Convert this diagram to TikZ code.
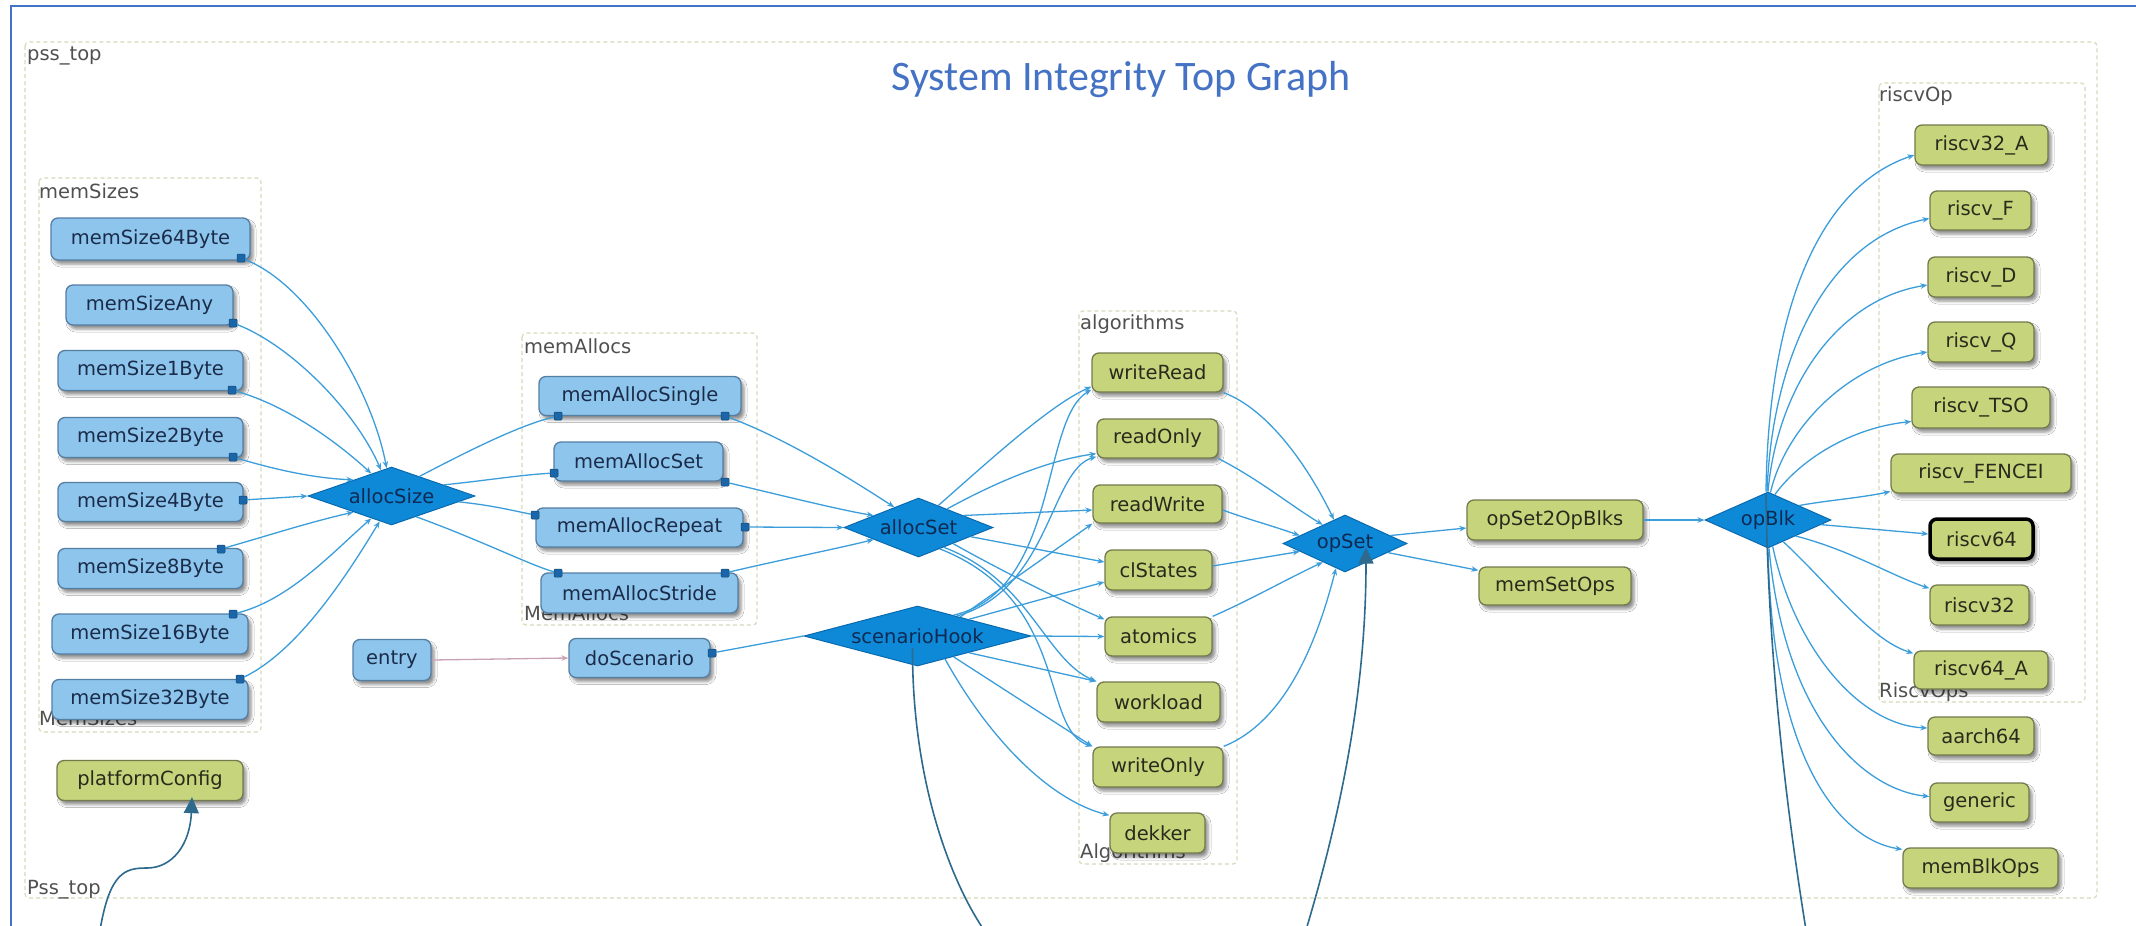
\documentclass[tikz,border=0pt]{standalone}
\usepackage{fontspec}
\setmainfont{DejaVu Sans}
\newfontfamily\titlefont{Carlito}
\usetikzlibrary{shapes.geometric,arrows.meta,shadows.blur,calc}
\definecolor{framecol}{HTML}{4472C4}
\definecolor{grpcol}{HTML}{D8DABA}
\definecolor{grptext}{HTML}{505050}
\definecolor{bfill}{HTML}{8DC5EC}
\definecolor{bdraw}{HTML}{557EA3}
\definecolor{btext}{HTML}{1B2C4A}
\definecolor{gfill}{HTML}{C6D47C}
\definecolor{gdraw}{HTML}{737A4C}
\definecolor{gtext}{HTML}{2A2A1C}
\definecolor{dfill}{HTML}{0D89D8}
\definecolor{ddraw}{HTML}{0B6AAE}
\definecolor{dtext}{HTML}{0E2A52}
\definecolor{edgecol}{HTML}{3B9EDB}
\definecolor{portcol}{HTML}{1A66A8}
\definecolor{pinkcol}{HTML}{C8A2B4}
\definecolor{callcol}{HTML}{2D6A8E}
\newcommand\nodefont{\fontsize{19.5}{22}\selectfont}
\begin{document}
\begin{tikzpicture}[x=1pt,y=-1pt,
 shadowed/.style={blur shadow={shadow xshift=3pt,shadow yshift=-4pt,shadow blur radius=3pt,shadow opacity=45}},
 bnode/.style={shadowed,rectangle,rounded corners=7pt,draw=bdraw,line width=1.3pt,fill=bfill,text=btext,font=\nodefont,inner sep=0pt},
 gnode/.style={shadowed,rectangle,rounded corners=7pt,draw=gdraw,line width=1.3pt,fill=gfill,text=gtext,font=\nodefont,inner sep=0pt},
 dnode/.style={diamond,draw=ddraw,line width=1pt,fill=dfill,text=dtext,font=\nodefont,inner sep=0pt},
 portsq/.style={rectangle,fill=portcol,draw=portcol!70!black,line width=0.5pt,minimum size=8pt,inner sep=0pt,rounded corners=1pt},
 grp/.style={draw=grpcol,line width=1.2pt,dash pattern=on 4pt off 3pt,rounded corners=4pt},
 glabel/.style={text=grptext,font=\nodefont,anchor=base west,inner sep=0pt},
 conn/.style={draw=edgecol,line width=1.3pt,-{Stealth[length=7pt,width=5.5pt]}},
 plainconn/.style={draw=edgecol,line width=1.3pt},
 pinkconn/.style={draw=pinkcol,line width=1.3pt,-{Stealth[length=7pt,width=5.5pt]}},
 callarrow/.style={draw=callcol,line width=1.6pt,-{Triangle[length=16pt,width=15pt]}},
 callline/.style={draw=callcol,line width=1.6pt},
]
\useasboundingbox (0,0) rectangle (2136,926);
\fill[white] (0,0) rectangle (2136,926);
% frame
\draw[framecol,line width=2.5pt] (11,930) -- (11,6) -- (2140,6);
% groups
\draw[grp] (25,42) rectangle (2097,898);
\node[glabel] (lpss) at (27,60) {pss\_top};
\node[glabel] (lPss) at (27,894) {Pss\_top};
\node[font=\titlefont\fontsize{42}{48}\selectfont,text=framecol,anchor=base,inner sep=0pt] (title) at (1121,90) {System Integrity Top Graph};

\draw[grp] (39,178) rectangle (261,732);
\node[glabel] (lms) at (39,198) {memSizes};
\node[glabel] (lMs) at (39,725) {MemSizes};

\draw[grp] (522,333) rectangle (757,625);
\node[glabel] (lma) at (524,353) {memAllocs};
\node[glabel] (lMa) at (524,620) {MemAllocs};

\draw[grp] (1079,311) rectangle (1237,864);
\node[glabel] (lal) at (1080,329) {algorithms};
\node[glabel] (lAl) at (1080,858) {Algorithms};

\draw[grp] (1879,83) rectangle (2085,702);
\node[glabel] (lro) at (1879,101) {riscvOp};
\node[glabel] (lRo) at (1879,697) {RiscvOps};

% memSizes
\node[bnode,minimum width=199pt,minimum height=42pt] (ms64) at (150.5,239) {memSize64Byte};
\node[bnode,minimum width=167pt,minimum height=40pt] (msAny) at (149.5,305) {memSizeAny};
\node[bnode,minimum width=185pt,minimum height=40pt] (ms1) at (150.5,370.5) {memSize1Byte};
\node[bnode,minimum width=185pt,minimum height=40pt] (ms2) at (150.5,437.5) {memSize2Byte};
\node[bnode,minimum width=185pt,minimum height=39pt] (ms4) at (150.5,502) {memSize4Byte};
\node[bnode,minimum width=185pt,minimum height=40pt] (ms8) at (150.5,568.5) {memSize8Byte};
\node[bnode,minimum width=196pt,minimum height=40pt] (ms16) at (150,634) {memSize16Byte};
\node[bnode,minimum width=196pt,minimum height=40pt] (ms32) at (150,699.5) {memSize32Byte};
\node[gnode,minimum width=186pt,minimum height=40pt] (pc) at (150,780.5) {platformConfig};

\node[bnode,minimum width=78pt,minimum height=41pt] (entry) at (392,660) {entry};
\node[bnode,minimum width=141pt,minimum height=39pt] (dosc) at (639.5,658) {doScenario};

% memAllocs
\node[bnode,minimum width=202pt,minimum height=39pt] (maSingle) at (640,396) {memAllocSingle};
\node[bnode,minimum width=169pt,minimum height=39pt] (maSet) at (638.5,461.5) {memAllocSet};
\node[bnode,minimum width=207pt,minimum height=39pt] (maRep) at (639.5,527.5) {memAllocRepeat};
\node[bnode,minimum width=197pt,minimum height=40pt] (maStr) at (639.5,593) {memAllocStride};

% diamonds
\node[dnode,aspect=2.88,minimum width=167pt,minimum height=58pt] (allocSize) at (391.5,496) {allocSize};
\node[dnode,aspect=2.53,minimum width=149pt,minimum height=59pt] (allocSet) at (918.5,527.5) {allocSet};
\node[dnode,aspect=3.78,minimum width=227pt,minimum height=60pt] (scHook) at (917.5,636) {scenarioHook};
\node[dnode,aspect=2.18,minimum width=124pt,minimum height=57pt] (opSet) at (1345,543.5) {opSet};
\node[dnode,aspect=2.25,minimum width=126pt,minimum height=56pt] (opBlk) at (1768,520) {opBlk};

% algorithms
\node[gnode,minimum width=131pt,minimum height=39pt] (wr) at (1157.5,372.5) {writeRead};
\node[gnode,minimum width=121pt,minimum height=39pt] (ro) at (1157.5,438.5) {readOnly};
\node[gnode,minimum width=129pt,minimum height=38pt] (rw) at (1157.5,504) {readWrite};
\node[gnode,minimum width=107pt,minimum height=40pt] (cl) at (1158.5,570) {clStates};
\node[gnode,minimum width=107pt,minimum height=39pt] (at) at (1158.5,636.5) {atomics};
\node[gnode,minimum width=123pt,minimum height=40pt] (wl) at (1158.5,702) {workload};
\node[gnode,minimum width=130pt,minimum height=40pt] (wo) at (1158,767) {writeOnly};
\node[gnode,minimum width=95pt,minimum height=40pt] (dk) at (1157.5,833) {dekker};

\node[gnode,minimum width=176pt,minimum height=40pt] (os2ob) at (1555,520) {opSet2OpBlks};
\node[gnode,minimum width=152pt,minimum height=38pt] (mso) at (1555,586) {memSetOps};

% riscv column
\node[gnode,minimum width=133pt,minimum height=40pt] (r32A) at (1981.5,145) {riscv32\_A};
\node[gnode,minimum width=101pt,minimum height=39pt] (rF) at (1980.5,210.5) {riscv\_F};
\node[gnode,minimum width=106pt,minimum height=40pt] (rD) at (1981,277) {riscv\_D};
\node[gnode,minimum width=106pt,minimum height=40pt] (rQ) at (1981,342) {riscv\_Q};
\node[gnode,minimum width=138pt,minimum height=41pt] (rTSO) at (1981,407.5) {riscv\_TSO};
\node[gnode,minimum width=180pt,minimum height=39pt] (rFEN) at (1981,473.5) {riscv\_FENCEI};
\node[gnode,draw=black,line width=3.5pt,minimum width=103pt,minimum height=40pt] (r64) at (1981.5,539) {riscv64};
\node[gnode,minimum width=99pt,minimum height=40pt] (r32) at (1979.5,605) {riscv32};
\node[gnode,minimum width=134pt,minimum height=38pt] (r64A) at (1981,670) {riscv64\_A};
\node[gnode,minimum width=106pt,minimum height=38pt] (aarch) at (1981,736) {aarch64};
\node[gnode,minimum width=99pt,minimum height=39pt] (gen) at (1979.5,802.5) {generic};
\node[gnode,minimum width=155pt,minimum height=40pt] (mbo) at (1980.5,868) {memBlkOps};

% ports
\node[portsq] (p64) at (241,258) {};
\node[portsq] (pAny) at (233,323) {};
\node[portsq] (p1) at (232,390) {};
\node[portsq] (p2) at (233,457) {};
\node[portsq] (p4) at (243,500) {};
\node[portsq] (p8) at (221,549) {};
\node[portsq] (p16) at (233,614) {};
\node[portsq] (p32) at (240,679) {};
\node[portsq] (pSL) at (558,416) {};
\node[portsq] (pSR) at (725,416) {};
\node[portsq] (pEL) at (554,473) {};
\node[portsq] (pER) at (725,482) {};
\node[portsq] (pRL) at (535,515) {};
\node[portsq] (pRR) at (745,527) {};
\node[portsq] (pTL) at (558,573) {};
\node[portsq] (pTR) at (725,573) {};
\node[portsq] (pD) at (712,653) {};

% memSizes -> allocSize
\draw[conn] (p64) .. controls (310,285) and (372,390) .. (allocSize.100);
\draw[conn] (pAny) .. controls (290,345) and (355,410) .. (allocSize.112);
\draw[conn] (p1) .. controls (285,405) and (335,440) .. (allocSize.132);
\draw[conn] (p2) .. controls (270,468) and (310,478) .. (allocSize.157);
\draw[conn] (p4) -- (allocSize.west);
\draw[conn] (p8) .. controls (270,535) and (310,522) .. (allocSize.203);
\draw[conn] (p16) .. controls (290,600) and (335,550) .. (allocSize.228);
\draw[conn] (p32) .. controls (300,650) and (350,570) .. (allocSize.245);

% allocSize -> memAllocs
\draw[plainconn] (allocSize.35) .. controls (470,450) and (520,425) .. (pSL);
\draw[plainconn] (allocSize.12) .. controls (490,480) and (520,475) .. (pEL);
\draw[plainconn] (allocSize.-5) .. controls (490,505) and (510,510) .. (pRL);
\draw[plainconn] (allocSize.-40) .. controls (480,540) and (530,565) .. (pTL);

% memAllocs -> allocSet
\draw[conn] (pSR) .. controls (790,440) and (860,485) .. (allocSet.140);
\draw[conn] (pER) .. controls (780,495) and (840,510) .. (allocSet.165);
\draw[conn] (pRR) -- (allocSet.west);
\draw[conn] (pTR) .. controls (780,560) and (840,548) .. (allocSet.195);

% entry -> doScenario -> scenarioHook
\draw[pinkconn] (entry.east) -- (dosc.west);
\draw[plainconn] (pD) -- (scHook.west);

% allocSet -> algorithms
\draw[conn] (allocSet.48) .. controls (990,460) and (1050,405) .. ([yshift=6pt]wr.south west);
\draw[conn] (allocSet.33) .. controls (1000,480) and (1050,460) .. ([yshift=5pt]ro.south west);
\draw[conn] (allocSet.15) -- ([yshift=-6pt]rw.west);
\draw[conn] (allocSet.-10) -- ([yshift=8pt]cl.west);
\draw[conn] (allocSet.-25) .. controls (1000,570) and (1060,600) .. ([yshift=-3pt]at.north west);
\draw[conn] (allocSet.-38) .. controls (1030,580) and (1045,660) .. (wl.north west);
\draw[conn] (allocSet.-45) .. controls (1070,600) and (1040,730) .. (wo.north west);

% scenarioHook -> algorithms
\draw[conn] (scHook.30) .. controls (1060,590) and (1040,420) .. ([yshift=3pt]wr.south west);
\draw[conn] (scHook.27) .. controls (1050,590) and (1050,470) .. ([yshift=2pt]ro.south west);
\draw[conn] (scHook.24) -- (rw.south west);
\draw[conn] (scHook.18) -- ([yshift=-12pt]cl.west);
\draw[conn] (scHook.east) -- (at.west);
\draw[conn] (scHook.-18) -- (wl.north west);
\draw[conn] (scHook.-30) -- (wo.north west);
\draw[conn] (scHook.-40) .. controls (990,740) and (1050,800) .. ([yshift=-3pt]dk.north west);

% algorithms -> opSet
\draw[conn] (wr.south east) .. controls (1270,410) and (1310,470) .. (opSet.115);
\draw[conn] (ro.south east) .. controls (1260,480) and (1290,505) .. (opSet.140);
\draw[conn] ([yshift=-6pt]rw.east) .. controls (1250,520) and (1270,525) .. (opSet.170);
\draw[conn] ([yshift=4pt]cl.east) -- (opSet.190);
\draw[conn] (at.north east) .. controls (1250,600) and (1285,580) .. (opSet.220);
\draw[conn] (wo.north east) .. controls (1290,720) and (1320,630) .. (opSet.250);

% opSet -> ...
\draw[conn] (opSet.10) -- ([yshift=-8pt]os2ob.west);
\draw[conn] (opSet.-12) -- ([yshift=-4pt]mso.north west);
\draw[conn] (os2ob.east) -- (opBlk.west);

% opBlk -> riscv
\draw[conn] ([xshift=-2pt]opBlk.north) .. controls (1768,330) and (1810,190) .. ([yshift=-10pt]r32A.west);
\draw[conn] ([xshift=-1pt]opBlk.north) .. controls (1772,360) and (1825,240) .. ([yshift=-8pt]rF.west);
\draw[conn] (opBlk.north) .. controls (1777,390) and (1835,300) .. ([yshift=-8pt]rD.west);
\draw[conn] (opBlk.85) .. controls (1785,430) and (1845,365) .. ([yshift=-10pt]rQ.west);
\draw[conn] (opBlk.75) .. controls (1800,460) and (1850,428) .. ([yshift=-14pt]rTSO.west);
\draw[conn] (opBlk.25) .. controls (1830,500) and (1860,498) .. ([yshift=-18pt]rFEN.west);
\draw[conn] (opBlk.-5) -- ([yshift=5pt]r64.west);
\draw[conn] (opBlk.-30) .. controls (1850,550) and (1890,575) .. ([yshift=-4pt]r32.north west);
\draw[conn] (opBlk.-55) .. controls (1830,585) and (1870,640) .. ([yshift=-3pt]r64A.north west);
\draw[conn] (opBlk.-80) .. controls (1795,650) and (1860,725) .. ([yshift=8pt]aarch.west);
\draw[conn] ([xshift=1pt]opBlk.south) .. controls (1785,720) and (1865,790) .. ([yshift=6pt]gen.west);
\draw[conn] (opBlk.south) .. controls (1772,760) and (1840,840) .. ([yshift=-2pt]mbo.north west);

% callouts
\coordinate (cA) at (100,930);
\coordinate (cB) at (984,930);
\coordinate (cC) at (1306,930);
\coordinate (cD) at (1806,930);
\draw[callarrow] (cA) .. controls (110,872) and (125,868) .. (147,868) .. controls (172,868) and (190,845) .. ([xshift=42pt,yshift=4pt]pc.south);
\draw[callline] ([xshift=-5pt,yshift=-12pt]scHook.center) .. controls (912,780) and (950,880) .. (cB);
\draw[callarrow] (cC) .. controls (1345,800) and (1366,680) .. ([xshift=21pt,yshift=-4pt]opSet.center);
\draw[callline] ([xshift=-2pt,yshift=-3pt]opBlk.north) .. controls (1768,650) and (1785,800) .. (cD);
\end{tikzpicture}
\end{document}
